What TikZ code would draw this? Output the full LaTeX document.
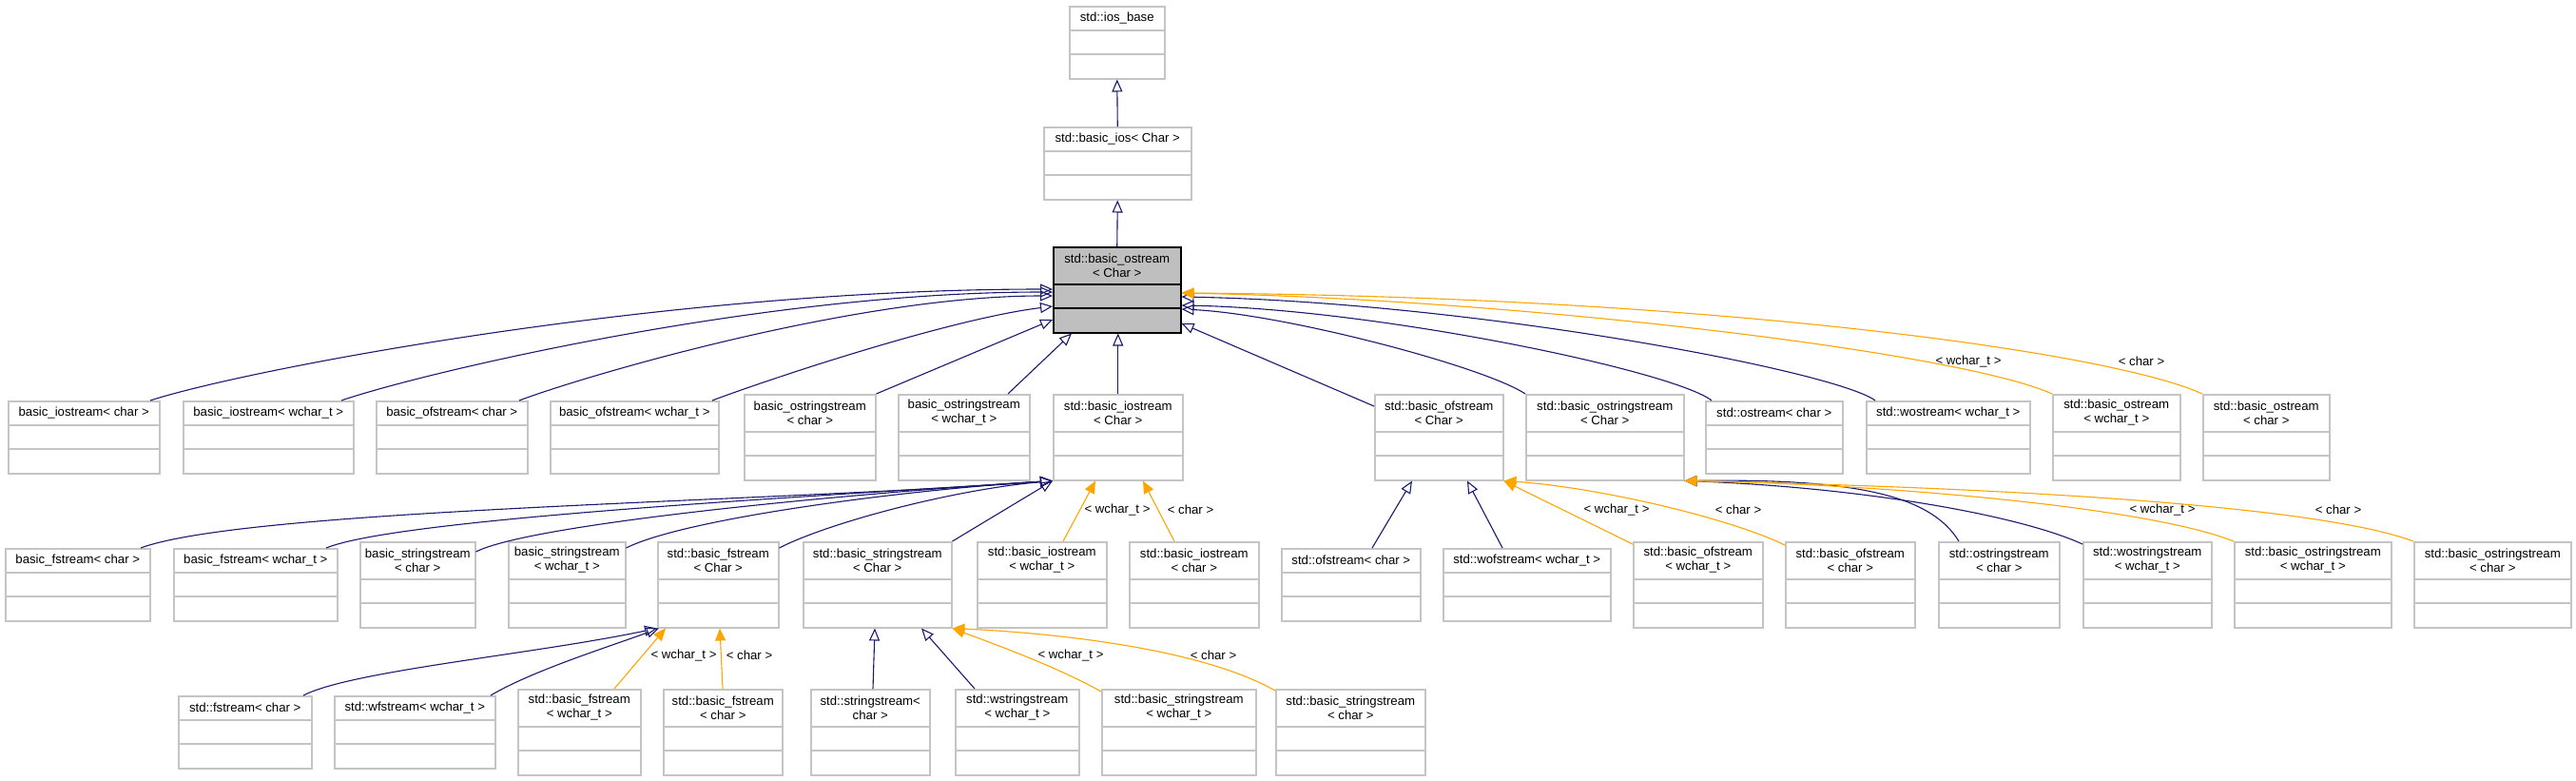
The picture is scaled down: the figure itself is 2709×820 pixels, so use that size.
\documentclass[tikz,border=0pt]{standalone}
\usepackage{fontspec}
\setmainfont{Liberation Sans}
\usetikzlibrary{arrows.meta,calc}
\definecolor{edgeblue}{HTML}{191970}
\definecolor{tmplorange}{HTML}{FFA500}
\definecolor{boxline}{HTML}{C4C4C4}
\definecolor{boxfill}{HTML}{BFBFBF}
\newcommand\mkcls[7]{%
  \node[#7, minimum width={#3pt-#2pt}, minimum height={#5pt+50pt}, anchor=north west] (#1) at (#2,#4) {};
  \node[ctext] (#1t) at ($(#1.north)+(0,#5/2)$) {#6};
  \draw[#7div] ($(#1.north west)+(0,#5)$) -- ($(#1.north east)+(0,#5)$);
  \draw[#7div] ($(#1.north west)+(0,#5+25)$) -- ($(#1.north east)+(0,#5+25)$);
}
\begin{document}
\begin{tikzpicture}[x=1pt, y=-1pt,
  cbox/.style={draw=boxline, line width=1.5pt, fill=white, inner sep=0pt},
  cboxdiv/.style={draw=boxline, line width=1.5pt},
  gbox/.style={draw=black, line width=1.5pt, fill=boxfill, inner sep=0pt},
  gboxdiv/.style={draw=black, line width=1.5pt},
  ctext/.style={font=\fontsize{13.2}{15}\selectfont, align=center, inner sep=0pt},
  lbl/.style={font=\fontsize{13.2}{15}\selectfont, inner sep=0pt},
  inh/.style={draw=edgeblue, line width=1.1pt, -{Triangle[open, length=13pt, width=11pt]}},
  tmpl/.style={draw=tmplorange, line width=1.1pt, -{Triangle[length=13pt, width=11pt]}}]
\fill[white] (0,0) rectangle (2709,820);
\useasboundingbox (0,0) rectangle (2709,820);

% row 0-2
\mkcls{ios}{1124}{1224}{6}{26}{std::ios\_base}{cbox}
\mkcls{bios}{1097}{1252}{133}{26}{std::basic\_ios< Char >}{cbox}
\mkcls{G}{1107}{1241}{259}{40}{std::basic\_ostream\\< Char >}{gbox}

% row 3
\mkcls{A1}{8}{167}{421}{26}{basic\_iostream< char >}{cbox}
\mkcls{A2}{192}{371}{421}{26}{basic\_iostream< wchar\_t >}{cbox}
\mkcls{A3}{395}{554}{421}{26}{basic\_ofstream< char >}{cbox}
\mkcls{A4}{578}{755}{421}{26}{basic\_ofstream< wchar\_t >}{cbox}
\mkcls{A5}{782}{920}{414}{40}{basic\_ostringstream\\< char >}{cbox}
\mkcls{A6}{944}{1082}{414}{40}{basic\_ostringstream\\< wchar\_t >}{cbox}
\mkcls{A7}{1107}{1243}{414}{40}{std::basic\_iostream\\< Char >}{cbox}
\mkcls{A8}{1445}{1580}{414}{40}{std::basic\_ofstream\\< Char >}{cbox}
\mkcls{A9}{1604}{1770}{414}{40}{std::basic\_ostringstream\\< Char >}{cbox}
\mkcls{A10}{1793}{1937}{421}{26}{std::ostream< char >}{cbox}
\mkcls{A11}{1962}{2134}{421}{26}{std::wostream< wchar\_t >}{cbox}
\mkcls{A12}{2158}{2292}{414}{40}{std::basic\_ostream\\< wchar\_t >}{cbox}
\mkcls{A13}{2316}{2449}{414}{40}{std::basic\_ostream\\< char >}{cbox}

% row 4
\mkcls{B1}{5}{157}{576}{26}{basic\_fstream< char >}{cbox}
\mkcls{B2}{182}{354}{576}{26}{basic\_fstream< wchar\_t >}{cbox}
\mkcls{B3}{378}{499}{569}{40}{basic\_stringstream\\< char >}{cbox}
\mkcls{B4}{534}{657}{569}{40}{basic\_stringstream\\< wchar\_t >}{cbox}
\mkcls{B5}{691}{818}{569}{40}{std::basic\_fstream\\< Char >}{cbox}
\mkcls{B6}{844}{1000}{569}{40}{std::basic\_stringstream\\< Char >}{cbox}
\mkcls{B7}{1027}{1163}{569}{40}{std::basic\_iostream\\< wchar\_t >}{cbox}
\mkcls{B8}{1187}{1323}{569}{40}{std::basic\_iostream\\< char >}{cbox}
\mkcls{B9}{1347}{1493}{576}{26}{std::ofstream< char >}{cbox}
\mkcls{B10}{1517}{1693}{576}{26}{std::wofstream< wchar\_t >}{cbox}
\mkcls{B11}{1717}{1853}{569}{40}{std::basic\_ofstream\\< wchar\_t >}{cbox}
\mkcls{B12}{1877}{2013}{569}{40}{std::basic\_ofstream\\< char >}{cbox}
\mkcls{B13}{2038}{2165}{569}{40}{std::ostringstream\\< char >}{cbox}
\mkcls{B14}{2190}{2325}{569}{40}{std::wostringstream\\< wchar\_t >}{cbox}
\mkcls{B15}{2349}{2514}{569}{40}{std::basic\_ostringstream\\< wchar\_t >}{cbox}
\mkcls{B16}{2538}{2703}{569}{40}{std::basic\_ostringstream\\< char >}{cbox}

% row 5
\mkcls{C1}{187}{327}{731}{26}{std::fstream< char >}{cbox}
\mkcls{C2}{351}{520}{731}{26}{std::wfstream< wchar\_t >}{cbox}
\mkcls{C3}{544}{673}{724}{40}{std::basic\_fstream\\< wchar\_t >}{cbox}
\mkcls{C4}{697}{822}{724}{40}{std::basic\_fstream\\< char >}{cbox}
\mkcls{C5}{852}{977}{724}{40}{std::stringstream<\\char >}{cbox}
\mkcls{C6}{1004}{1134}{724}{40}{std::wstringstream\\< wchar\_t >}{cbox}
\mkcls{C7}{1158}{1320}{724}{40}{std::basic\_stringstream\\< wchar\_t >}{cbox}
\mkcls{C8}{1341}{1498}{724}{40}{std::basic\_stringstream\\< char >}{cbox}

% top chain
\draw[inh] (bios.north) -- (ios.south);
\draw[inh] (G.north) -- (bios.south);

% row 3 -> basic_ostream
\draw[inh] ($(A1.north west)+(150,0)$) .. controls (260,388) and (700,304) .. ($(G.north west)+(0,45)$);
\draw[inh] ($(A2.north west)+(167,0)$) .. controls (440,393) and (800,307) .. ($(G.north west)+(0,48)$);
\draw[inh] ($(A3.north west)+(151,0)$) .. controls (615,395) and (900,311) .. ($(G.north west)+(0,52)$);
\draw[inh] ($(A4.north west)+(171,0)$) .. controls (810,398) and (1000,335) .. ($(G.north west)+(0,63)$);
\draw[inh] (A5.north east) -- ($(G.north west)+(0,77)$);
\draw[inh] ($(A6.north west)+(116,0)$) -- ($(G.south west)+(20,0)$);
\draw[inh] (A7.north) -- (A7.north |- G.south);
\draw[inh] ($(A8.north west)+(0,13)$) -- ($(G.north east)+(0,81)$);
\draw[inh] (A9.north west) .. controls (1560,385) and (1350,330) .. ($(G.north east)+(0,66)$);
\draw[inh] ($(A10.north west)+(7,0)$) .. controls (1760,390) and (1450,325) .. ($(G.north east)+(0,62)$);
\draw[inh] ($(A11.north west)+(10,0)$) .. controls (1930,390) and (1550,318) .. ($(G.north east)+(0,53)$);
\draw[tmpl] (A12.north west) .. controls (2060,370) and (1600,315) .. ($(G.north east)+(0,49)$);
\draw[tmpl] (A13.north west) .. controls (2220,370) and (1800,312) .. ($(G.north east)+(0,49)$);
\node[lbl] (l1) at (2070,380) {< wchar\_t >};
\node[lbl] (l2) at (2252,380) {< char >};

% row 4 -> std::basic_iostream
\draw[inh] ($(B1.north west)+(143,0)$) .. controls (260,535) and (800,528) .. (A7.south west);
\draw[inh] ($(B2.north west)+(161,0)$) .. controls (420,545) and (850,522) .. (A7.south west);
\draw[inh] ($(B3.north east)+(0,11)$) .. controls (560,550) and (900,518) .. (A7.south west);
\draw[inh] ($(B4.north east)+(0,7)$) .. controls (720,545) and (950,515) .. (A7.south west);
\draw[inh] ($(B5.north east)+(0,7)$) .. controls (870,550) and (1000,515) .. (A7.south west);
\draw[inh] (B6.north east) -- (A7.south west);
\draw[tmpl] ($(B7.north west)+(91,0)$) -- ($(A7.south west)+(45,0)$);
\draw[tmpl] ($(B8.north west)+(48,0)$) -- ($(A7.south west)+(95,0)$);
\node[lbl] (l3) at (1175,536) {< wchar\_t >};
\node[lbl] (l4) at (1252,536) {< char >};

% row 4 -> std::basic_ofstream
\draw[inh] ($(B9.north west)+(96,0)$) -- ($(A8.south west)+(40,0)$);
\draw[inh] ($(B10.north west)+(63,0)$) -- ($(A8.south west)+(98,0)$);
\draw[tmpl] ($(B11.north west)+(0,3)$) -- (A8.south east);
\draw[tmpl] ($(B12.north west)+(0,4)$) .. controls (1820,545) and (1680,512) .. (A8.south east);
\node[lbl] (l5) at (1700,536) {< wchar\_t >};
\node[lbl] (l6) at (1828,536) {< char >};

% row 4 -> std::basic_ostringstream
\draw[inh] ($(B13.north west)+(22,0)$) .. controls (2030,520) and (1950,503) .. (A9.south east);
\draw[inh] ($(B14.north west)+(0,3)$) .. controls (2120,540) and (1950,512) .. (A9.south east);
\draw[tmpl] (B15.north west) .. controls (2250,530) and (1950,508) .. (A9.south east);
\draw[tmpl] (B16.north west) .. controls (2420,525) and (2000,510) .. (A9.south east);
\node[lbl] (l7) at (2274,536) {< wchar\_t >};
\node[lbl] (l8) at (2459,536) {< char >};

% row 5 -> std::basic_fstream
\draw[inh] ($(C1.north west)+(132,0)$) .. controls (370,705) and (560,688) .. (B5.south west);
\draw[inh] ($(C2.north west)+(165,0)$) .. controls (560,705) and (640,680) .. ($(B5.south west)+(2,0)$);
\draw[tmpl] ($(C3.north west)+(102,0)$) -- ($(B5.south west)+(9,0)$);
\draw[tmpl] ($(C4.north west)+(63,0)$) -- ($(B5.south west)+(66,0)$);
\node[lbl] (l9) at (719,689) {< wchar\_t >};
\node[lbl] (l10) at (788,689) {< char >};

% row 5 -> std::basic_stringstream
\draw[inh] ($(C5.north west)+(66,0)$) -- ($(B6.south west)+(76,0)$);
\draw[inh] ($(C6.north west)+(21,0)$) -- ($(B6.south west)+(125,0)$);
\draw[tmpl] ($(C7.north west)+(0,3)$) .. controls (1110,700) and (1040,675) .. (B6.south east);
\draw[tmpl] ($(C8.north west)+(0,2)$) .. controls (1260,680) and (1100,665) .. (B6.south east);
\node[lbl] (l11) at (1126,689) {< wchar\_t >};
\node[lbl] (l12) at (1276,689) {< char >};
\end{tikzpicture}
\end{document}
